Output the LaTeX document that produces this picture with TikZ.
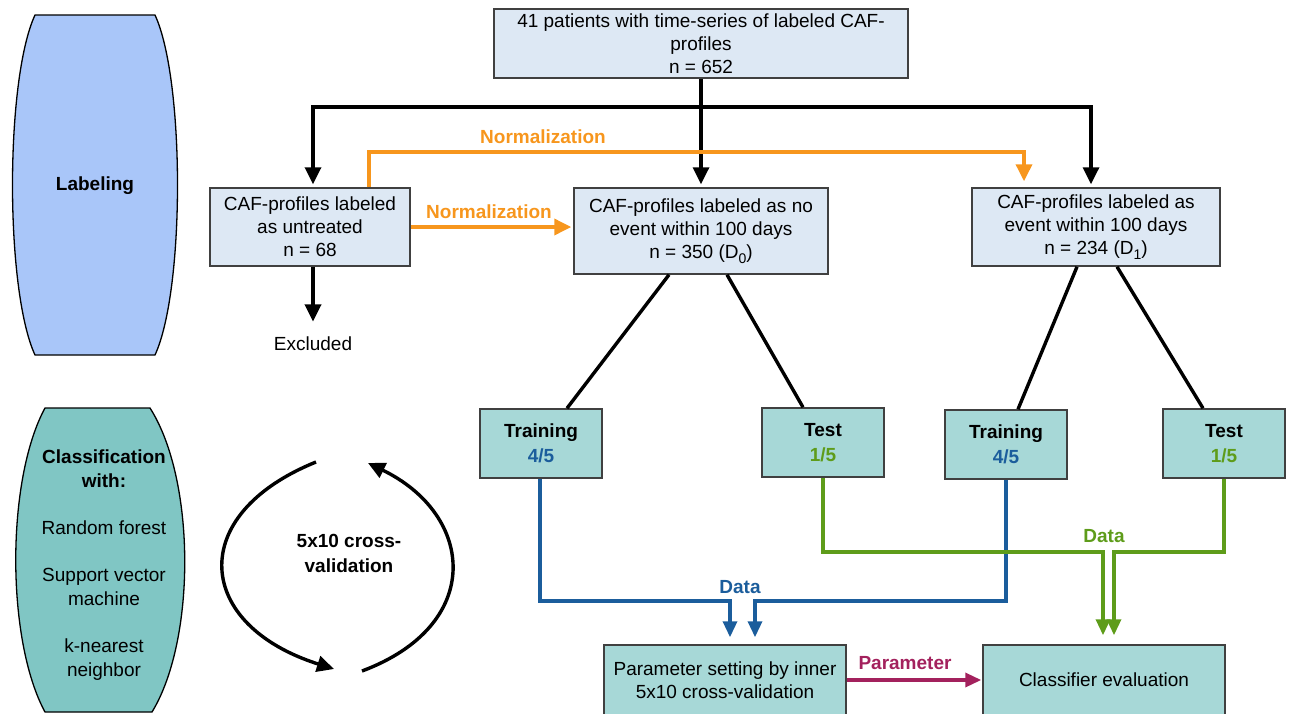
\documentclass[tikz,border=0pt]{standalone}
\usepackage{fontspec}
\setmainfont{Liberation Sans}
\usepackage{tikz}
\usetikzlibrary{positioning,arrows.meta,calc}
\definecolor{boxblue}{HTML}{DDE8F4}
\definecolor{boxteal}{HTML}{A7D8D7}
\definecolor{laneblue}{HTML}{A9C6F9}
\definecolor{laneteal}{HTML}{80C6C4}
\definecolor{normorange}{HTML}{F7961D}
\definecolor{datablue}{HTML}{1B5D9C}
\definecolor{datagreen}{HTML}{5E9C1A}
\definecolor{parammaroon}{HTML}{A3215D}
\newcommand{\boxfont}{\fontsize{19}{23}\selectfont}
\tikzstyle{flow}=[arrows={-Triangle[length=17pt,width=16pt]},draw=black,line width=3.4pt,shorten >=3pt]
\tikzstyle{splitline}=[draw=black,line width=3.4pt]
\tikzstyle{normflow}=[flow,draw=normorange,color=normorange,line width=3.6pt,shorten >=6pt]
\tikzstyle{dataflow}=[flow,arrows={-Triangle[length=16pt,width=14pt]},line width=3.4pt,shorten >=7pt]
\tikzstyle{databox}=[draw=black!75,line width=1.5pt,fill=boxblue,align=center,font=\boxfont,inner sep=0pt]
\tikzstyle{foldbox}=[databox,fill=boxteal,font=\fontsize{19}{25}\selectfont\bfseries,minimum width=122pt,minimum height=69pt]
\tikzstyle{flowlabel}=[font=\boxfont\bfseries,inner sep=1pt]
\tikzstyle{lane}=[draw=black,line width=1.3pt]
\newcommand{\lowsub}[1]{\raisebox{-5pt}{\fontsize{14}{14}\selectfont #1}}

\begin{document}
\begin{tikzpicture}[x=1pt,y=-1pt]
    \useasboundingbox (0,0) rectangle (1290,713);

    % side lanes
    \draw[lane,fill=laneblue] (35,15) -- (155,15) .. controls (185,80) and (185,290) .. (155,355)
        -- (35,355) .. controls (5,290) and (5,80) .. (35,15) -- cycle;
    \node[flowlabel] (labeling) at (95,186) {Labeling};
    \draw[lane,fill=laneteal] (45,408) -- (150,408) .. controls (196,480) and (196,640) .. (152,712)
        -- (45,712) .. controls (6,640) and (6,480) .. (45,408) -- cycle;
    \node[align=center,font=\fontsize{19}{24}\selectfont] (classify) at (104,565)
        {\textbf{Classification}\\\textbf{with:}\\[23pt]Random forest\\[23pt]Support vector\\machine\\[23pt]k-nearest\\neighbor};

    % cross-validation cycle
    \coordinate (cvtl) at (316,462);
    \coordinate (cvbl) at (334,669);
    \coordinate (cvbr) at (362,671);
    \coordinate (cvtr) at (368,463);
    \draw[flow,shorten >=0pt] (cvtl) .. controls (185,515) and (195,625) .. (cvbl);
    \draw[flow,shorten >=0pt] (cvbr) .. controls (485,625) and (475,515) .. (cvtr);
    \node[flowlabel,align=center,font=\fontsize{19}{25}\selectfont\bfseries] (cvtext) at (349,553) {5x10 cross-\\validation};

    % labeled profiles
    \node[databox,minimum width=414pt,minimum height=69pt] (patients) at (701,43.5)
        {41 patients with time-series of labeled CAF-\\profiles\\n = 652};
    \node[databox,minimum width=200pt,minimum height=78pt] (untreated) at (310,227)
        {CAF-profiles labeled\\as untreated\\n = 68};
    \node[databox,minimum width=254pt,minimum height=86pt] (d0) at (701,231)
        {CAF-profiles labeled as no\\event within 100 days\\n = 350 (D\lowsub{0})};
    \node[databox,minimum width=248pt,minimum height=78pt] (d1) at (1096,227)
        {CAF-profiles labeled as\\event within 100 days\\n = 234 (D\lowsub{1})};
    \node[font=\boxfont] (excluded) at (313,344) {Excluded};

    % train / test splits
    \node[foldbox] (train0) at (541,443.5) {Training\\\textcolor{datablue}{4/5}};
    \node[foldbox] (test0) at (823,442.5) {Test\\\textcolor{datagreen}{1/5}};
    \node[foldbox] (train1) at (1006,444.5) {Training\\\textcolor{datablue}{4/5}};
    \node[foldbox] (test1) at (1224,443.5) {Test\\\textcolor{datagreen}{1/5}};

    % classification
    \node[databox,fill=boxteal,minimum width=242pt,minimum height=70pt] (param) at (725,680)
        {Parameter setting by inner\\5x10 cross-validation};
    \node[databox,fill=boxteal,minimum width=242pt,minimum height=70pt] (classifier) at (1104,680)
        {Classifier evaluation};

    % arrows
    \coordinate (split) at (701,107);
    \draw[flow] (patients.south) -- (d0.north);
    \draw[flow] (split) -| ([xshift=3]untreated.north);
    \draw[flow] (split) -| ([xshift=-5]d1.north);
    \draw[flow,shorten >=12pt] ([xshift=3]untreated.south) -- (excluded.north);
    \draw[normflow] ([xshift=59]untreated.north) -- ++(0,-35) -| ([xshift=-72]d1.north);
    \draw[normflow,shorten >=2pt] (untreated.east) -- (untreated.east -| d0.west);
    \node[flowlabel,text=normorange] (norm0) at (543,137) {Normalization};
    \node[flowlabel,text=normorange] (norm1) at (489,212) {Normalization};

    \draw[splitline] ([xshift=-32]d0.south) -- ([xshift=26]train0.north);
    \draw[splitline] ([xshift=26]d0.south) -- ([xshift=-20]test0.north);
    \draw[splitline] ([xshift=-19]d1.south) -- ([xshift=12]train1.north);
    \draw[splitline] ([xshift=21]d1.south) -- ([xshift=-21]test1.north);

    \coordinate (bluebus) at (0,601);
    \coordinate (greenbus) at (0,552);
    \draw[dataflow,draw=datablue,color=datablue] ([xshift=-1]train0.south) -- ([xshift=-1]train0.south |- bluebus) -| ([xshift=5]param.north);
    \draw[dataflow,draw=datablue,color=datablue] (train1.south) -- (train1.south |- bluebus) -| ([xshift=30]param.north);
    \draw[dataflow,draw=datagreen,color=datagreen,shorten >=9pt] (test0.south) -- (test0.south |- greenbus) -| ([xshift=-1]classifier.north);
    \draw[dataflow,draw=datagreen,color=datagreen,shorten >=9pt] (test1.south) -- (test1.south |- greenbus) -| ([xshift=10]classifier.north);
    \node[flowlabel,text=datablue] (data0) at (740,587) {Data};
    \node[flowlabel,text=datagreen] (data1) at (1104,536) {Data};

    \draw[flow,draw=parammaroon,color=parammaroon,shorten >=1pt,arrows={-Triangle[length=16pt,width=14pt]}] (param.east) -- (classifier.west);
    \node[flowlabel,text=parammaroon] (paramlabel) at (905,663) {Parameter};

\end{tikzpicture}
\end{document}
